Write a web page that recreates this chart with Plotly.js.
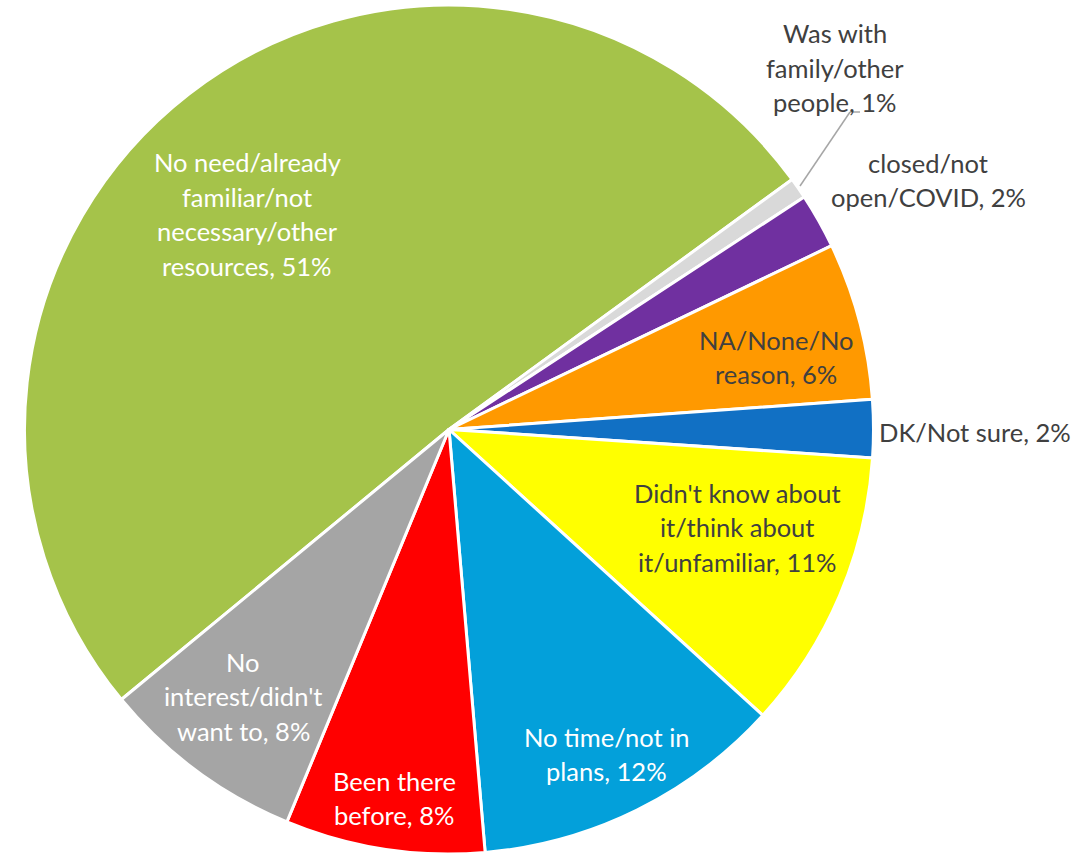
<!DOCTYPE html>
<html>
<head>
<meta charset="utf-8">
<script src="https://cdn.plot.ly/plotly-3.0.1.min.js"></script>
<style>html,body{margin:0;padding:0;background:#fff;}#chart{width:1090px;height:854px;}</style>
</head>
<body>
<div id="chart"></div>
<script>
// ---- data ----
var categories = [
  "No need/already familiar/not necessary/other resources",
  "Was with family/other people",
  "closed/not open/COVID",
  "NA/None/No reason",
  "DK/Not sure",
  "Didn't know about it/think about it/unfamiliar",
  "No time/not in plans",
  "Been there before",
  "No interest/didn't want to"
];
var values = [51.0, 0.8, 2.1, 6.0, 2.2, 10.7, 11.9, 7.6, 7.8];
var labelLines = [
  ["No need/already", "familiar/not", "necessary/other", "resources,"],
  ["Was with", "family/other", "people,"],
  ["closed/not", "open/COVID,"],
  ["NA/None/No", "reason,"],
  ["DK/Not sure,"],
  ["Didn't know about", "it/think about", "it/unfamiliar,"],
  ["No time/not in", "plans,"],
  ["Been there", "before,"],
  ["No", "interest/didn't", "want to,"]
];

// ---- styles ----
var colors = ["#A5C34A", "#D9D9D9", "#7030A0", "#FF9900", "#1170C4", "#FFFF00", "#03A0DA", "#FF0000", "#A5A5A5"];
var textColors = ["#FFFFFF", "#404040", "#404040", "#404040", "#404040", "#404040", "#FFFFFF", "#FFFFFF", "#FFFFFF"];
// label centre positions in pixels
var labelPos = [[247, 214], [835, 68], [928, 180], [776, 357], [975, 432], [737, 527], [607, 754], [394, 798], [243, 696]];
var W = 1090, H = 854, LINE = 34.5;
var FONT = "Lato, 'Open Sans', sans-serif";

var total = values.reduce(function (a, b) { return a + b; }, 0);
var annotations = [];
categories.forEach(function (c, i) {
  var lines = labelLines[i].slice();
  var pct = Math.round(values[i] / total * 100);
  lines[lines.length - 1] += " " + pct + "%";
  var n = lines.length;
  lines.forEach(function (ln, j) {
    var py = labelPos[i][1] + (j - (n - 1) / 2) * LINE;
    annotations.push({
      xref: "paper", yref: "paper",
      x: labelPos[i][0] / W, y: 1 - py / H,
      xanchor: "center", yanchor: "middle",
      text: ln, showarrow: false,
      font: {family: FONT, size: 25.5, color: textColors[i]}
    });
  });
});

var shapes = [
  {type: "line", xref: "paper", yref: "paper", x0: 860 / W, y0: 1 - 112 / H, x1: 850 / W, y1: 1 - 112 / H, line: {color: "#A6A6A6", width: 1.5}},
  {type: "line", xref: "paper", yref: "paper", x0: 850 / W, y0: 1 - 112 / H, x1: 800 / W, y1: 1 - 186 / H, line: {color: "#A6A6A6", width: 1.5}}
];

var trace = {
  type: "pie",
  labels: categories,
  values: values,
  sort: false,
  direction: "clockwise",
  rotation: 230.5,
  textinfo: "none",
  hoverinfo: "label+percent",
  marker: {colors: colors, line: {color: "#FFFFFF", width: 3}},
  domain: {x: [24 / W, 874 / W], y: [0, 1 - 5 / H]}
};

var layout = {
  width: W, height: H,
  margin: {l: 0, r: 0, t: 0, b: 0},
  showlegend: false,
  paper_bgcolor: "#FFFFFF",
  annotations: annotations,
  shapes: shapes
};

Plotly.newPlot("chart", [trace], layout, {displayModeBar: false, staticPlot: true});
</script>
</body>
</html>
